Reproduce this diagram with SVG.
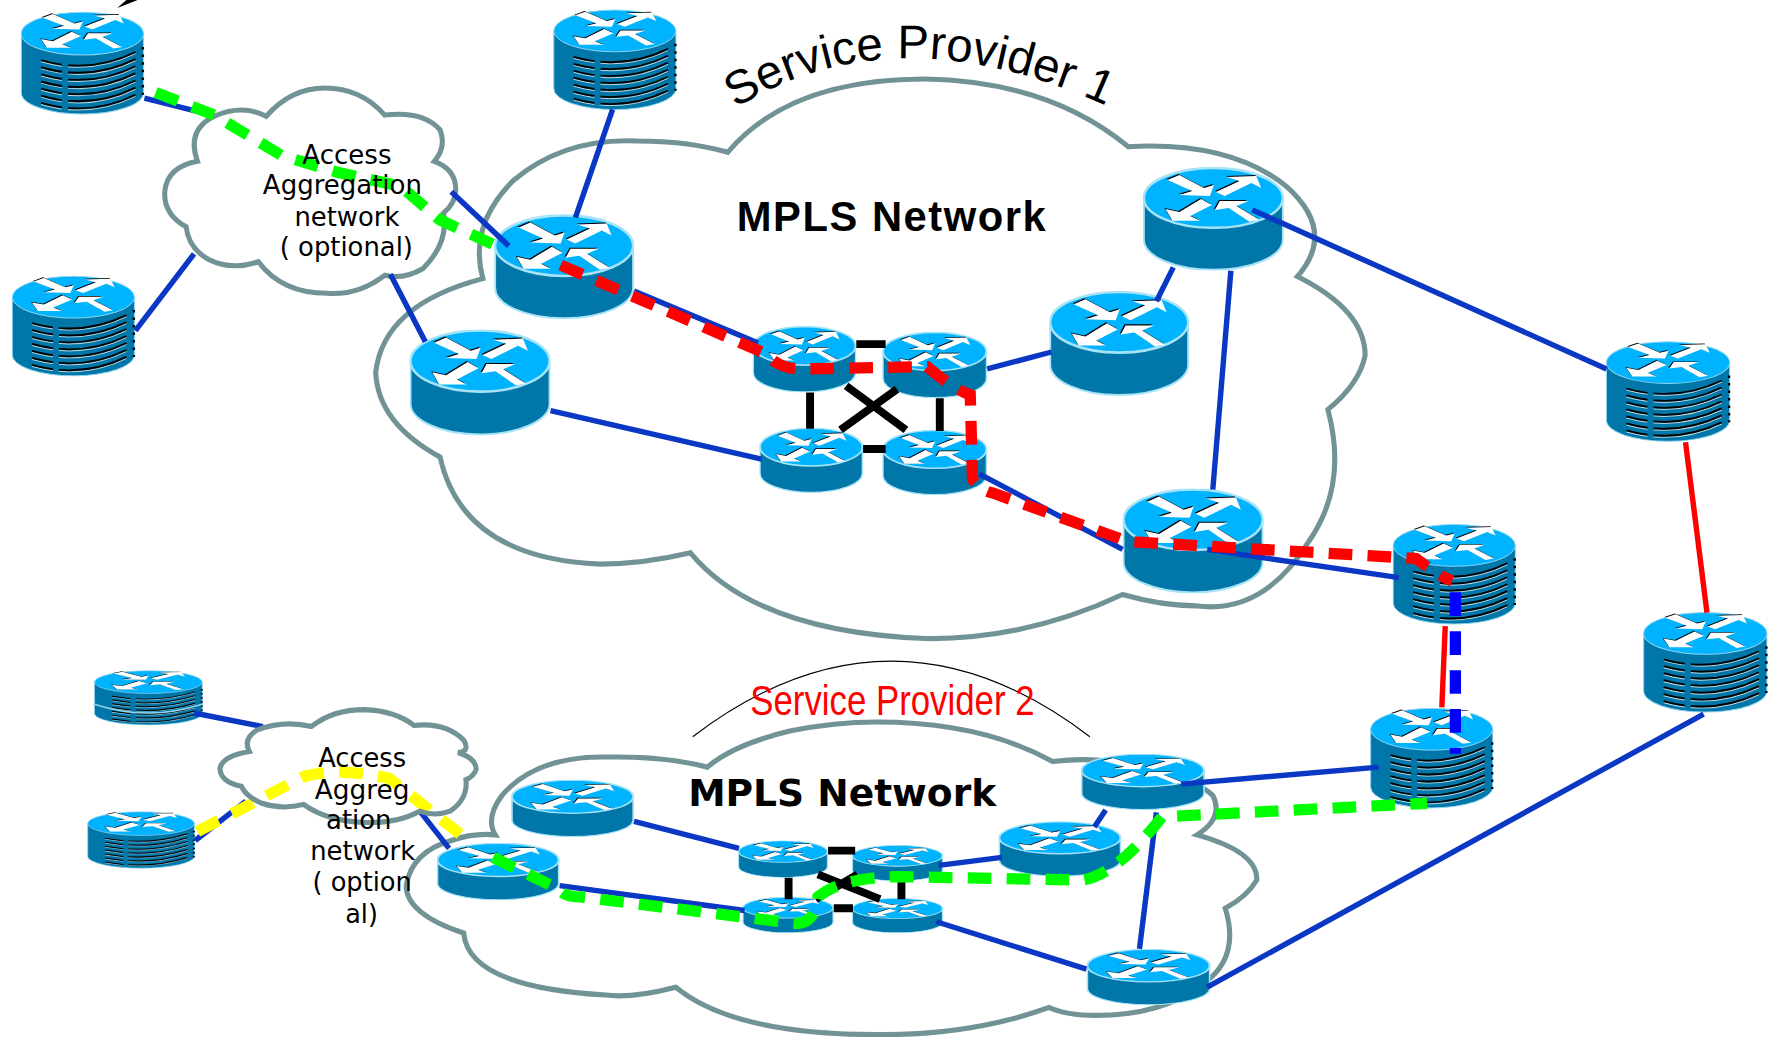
<svg xmlns="http://www.w3.org/2000/svg" xmlns:xlink="http://www.w3.org/1999/xlink" width="1769" height="1037" viewBox="0 0 1769 1037">
<style>
.cloud{fill:#fff;stroke:#729396;stroke-width:4.5}
.bl{fill:none;stroke:#0a38c4;stroke-width:4.8}
.rd{fill:none;stroke:#f00;stroke-width:4.8}
.bk{fill:none;stroke:#000;stroke-width:7}
.dash{fill:none;stroke-width:10;stroke-dasharray:21 13.5}
.ac{font-family:"DejaVu Sans",sans-serif;font-size:24px;fill:#000;text-anchor:start}
</style>
<defs>
<g id="arrows">
<path id="ar" d="M25 13L37 8L62 21L72 18L68 29L37 28L50 24ZM74 25L98 14L85 10L115 9L120 21L110 16L83 29ZM59 32L37 45L23 42L30 54L58 54L48 49L70 38ZM73 43L78 34L107 34L95 39L118 53L108 55L87 41Z"/>
</g>
<symbol id="router" viewBox="0 0 143 104" preserveAspectRatio="none">
<path d="M1 31V73A70.5 30 0 0 0 142 73V31Z" fill="#0077a8" stroke="#a6e3f7" stroke-width="2"/>
<ellipse cx="71.5" cy="31" rx="70.5" ry="30" fill="#00b3ff" stroke="#a6e3f7" stroke-width="2.5"/>
<use href="#arrows" x="-1" y="-1" fill="#000"/>
<use href="#arrows" fill="#fff"/>
</symbol>
<symbol id="stack" viewBox="0 0 125 102" preserveAspectRatio="none">
<path d="M1 22V80A61.5 21 0 0 0 124 80V22Z" fill="#0077a8" stroke="#8fd4ee" stroke-width="1"/>
<path d="M123.5 35V82" fill="none" stroke="#000" stroke-width="2.5" stroke-dasharray="2.5 5"/>
<g fill="none" stroke="#c4d4da" stroke-width="1" transform="translate(0 1.6)">
<path d="M21 48Q70 62 116 40"/><path d="M21 55Q70 69 116 47"/><path d="M21 62Q70 76 116 54"/><path d="M21 69Q70 83 116 61"/><path d="M21 76Q70 90 116 68"/><path d="M21 83Q70 97 116 75"/><path d="M21 90Q70 104 116 82"/>
</g>
<g fill="none" stroke="#000" stroke-width="1.8">
<path d="M21 48Q70 62 116 40"/><path d="M21 55Q70 69 116 47"/><path d="M21 62Q70 76 116 54"/><path d="M21 69Q70 83 116 61"/><path d="M21 76Q70 90 116 68"/><path d="M21 83Q70 97 116 75"/><path d="M21 90Q70 104 116 82"/>
</g>
<rect x="42" y="44" width="6" height="53" fill="#0077a8"/>
<ellipse cx="62.5" cy="22" rx="61.5" ry="21" fill="#00b3ff" stroke="#8fd4ee" stroke-width="1"/>
<g transform="translate(1 -3) scale(.86 .72)">
<use href="#arrows" x="-1" y="-1" fill="#000"/>
<use href="#arrows" fill="#fff"/>
</g>
</symbol>
<path id="arc1" d="M652 96Q800 4 1000 103"/>
</defs>
<g transform="scale(1.1282)">
<g id="clouds">
<path id="sp1-cloud" class="cloud" d="M645 135Q700 70 820 70Q930 72 1000 130Q1090 125 1140 165Q1185 205 1150 245Q1210 275 1210 315Q1205 340 1177 363Q1195 430 1160 480Q1120 545 1060 537Q1030 537 995 527Q910 567 820 566Q670 560 612 490Q570 500 532 500Q410 495 390 405Q335 375 333 330Q340 270 428 247Q415 200 455 160Q500 122 565 125Q610 125 645 135Z"/>
<path id="sp2-cloud" class="cloud" d="M439 740Q430 725 445 705Q475 670 537 671Q590 670 627 680Q650 660 700 648Q740 640 777 640Q870 640 933 675Q975 670 1010 680Q1060 690 1075 705Q1085 725 1061 740Q1115 755 1114 780Q1105 795 1086 805Q1100 850 1065 873Q1030 900 971 900Q945 900 930 893Q860 918 777 917Q650 917 599 875Q560 885 537 882Q415 875 411 827Q360 810 360 785Q365 755 400 745Q420 738 439 740Z"/>
<path id="access1-cloud" class="cloud" d="M236 103Q258 78 288 78Q320 78 341 102Q375 98 390 115Q396 130 385 143Q404 150 404 168Q404 180 393 189Q398 215 375 238Q358 248 341 244Q318 262 290 260Q250 260 229 232Q205 240 185 230Q167 220 165 201Q145 190 146 170Q148 148 175 143Q165 115 190 103Q215 92 236 103Z"/>
</g>
<g id="nodes">
<g id="s1"><use href="#stack" x="18" y="10" width="110" height="92"/></g>
<g id="s2"><use href="#stack" x="10" y="244" width="110" height="90"/></g>
<g id="s3"><use href="#stack" x="490" y="8" width="110" height="90"/></g>
<g id="s4"><use href="#stack" x="1423" y="302" width="111" height="90"/></g>
<g id="s5"><use href="#stack" x="1456" y="542" width="111" height="90"/></g>
<g id="s6"><use href="#stack" x="1234" y="464" width="110" height="90"/></g>
<g id="s7"><use href="#stack" x="1214" y="627" width="110" height="90"/></g>
<g id="s8"><use href="#stack" x="83" y="594" width="97" height="49"/><path d="M83 624Q131 640 180 624" fill="none" stroke="#8fd4ee" stroke-width="1.2"/></g>
<g id="s9"><use href="#stack" x="77" y="719" width="96" height="51"/></g>
<g id="r1"><use href="#router" x="438" y="190" width="124" height="93"/></g>
<g id="r2"><use href="#router" x="363" y="292" width="125" height="94"/></g>
<g id="r3"><use href="#router" x="930" y="258" width="124" height="93"/></g>
<g id="r4"><use href="#router" x="1013" y="148" width="125" height="92"/></g>
<g id="r5"><use href="#router" x="995" y="433" width="125" height="93"/></g>
<g id="a"><use href="#router" x="667" y="289" width="92" height="59"/></g>
<g id="b"><use href="#router" x="782" y="294" width="93" height="59"/></g>
<g id="c"><use href="#router" x="673" y="379" width="92" height="58"/></g>
<g id="d"><use href="#router" x="782" y="381" width="93" height="58"/></g>
<g id="r6"><use href="#router" x="453" y="691" width="109" height="51"/></g>
<g id="r7"><use href="#router" x="387" y="747" width="109" height="51"/></g>
<g id="e"><use href="#router" x="654" y="745" width="80" height="33"/></g>
<g id="f"><use href="#router" x="755" y="749" width="81" height="32"/></g>
<g id="g"><use href="#router" x="658" y="795" width="81" height="32"/></g>
<g id="h"><use href="#router" x="755" y="796" width="81" height="31"/></g>
<g id="r8"><use href="#router" x="885" y="728" width="109" height="49"/></g>
<g id="r9"><use href="#router" x="958" y="668" width="110" height="50"/></g>
<g id="r10"><use href="#router" x="963" y="841" width="110" height="50"/></g>
</g>
<g id="connectors">
<path class="bl" d="M128 87L188 102M120 293L172 225M400 170L451 218M346 243L377 303M543 97L510 193M562 258L672 304M488 364L675 407M875 327L932 312M1040 237L1025 267M1091 240L1075 434M1110 186L1424 327M868 420L995 487M1070 487L1240 512M1047 695L1222 680M562 728L655 752M496 785L660 807M832 767L888 760M980 718L970 733M1025 720L1010 841M830 817L963 859M1070 875L1510 633M172 632L233 644M173 745L218 710M373 720L398 752"/>
<path class="rd" d="M1494 392L1513 543M1281 555L1278 627"/>
<path class="bk" d="M759 305H785M718 348V380M833 353V382M765 398H785M750 342L803 381M745 381L795 345M734 754H758M699 778V797M799 781V797M739 805H756M725 775L780 797M723 797L760 775"/>
<path class="dash" stroke="#ff0" d="M175 737L270 688Q300 680 345 690L415 745"/>
<path class="dash" stroke="#0f0" d="M138 82L190 102L250 138L300 153L355 165L390 195L440 218"/>
<path class="dash" stroke="#f00" d="M497 235L680 314Q690 327 710 327L822 325Q845 345 860 350L862 425Q870 435 880 437L1000 480L1255 495Q1275 510 1287 515"/>
<path class="dash" stroke="#00f" d="M1290 525V668"/>
<path class="dash" stroke="#0f0" d="M437 760L495 788Q500 795 515 795L700 818Q722 822 725 795Q745 778 795 777L960 780Q990 775 1030 724L1265 712"/>
</g>
<path id="access2-cloud" fill="none" stroke="#729396" stroke-width="4.5" d="M276 644Q295 629 323 629Q350 630 367 643Q395 640 411 656Q417 666 406 667Q422 672 422 682Q420 688 413 691Q415 708 399 719Q385 724 372 719Q352 730 323 729Q290 728 269 713Q250 718 232 712Q218 706 214 697Q195 693 195 681Q197 670 221 666Q215 655 228 647Q252 638 276 644Z"/>
<path id="pointer" d="M104 7L122 0H112Z" fill="#000"/>
<path id="sp2-arc" d="M614 653Q790 519 966 653" fill="none" stroke="#000" stroke-width="1"/>
<g id="labels">
<text font-family="'Liberation Sans',sans-serif" font-size="42" fill="#000"><textPath href="#arc1">Service Provider 1</textPath></text>
<text x="653" y="205" font-family="'Liberation Sans',sans-serif" font-weight="bold" font-size="37" fill="#000" textLength="274">MPLS Network</text>
<text x="610" y="714" font-family="'DejaVu Sans',sans-serif" font-weight="bold" font-size="33" fill="#000" textLength="273" lengthAdjust="spacingAndGlyphs">MPLS Network</text>
<text x="665" y="634" font-family="'Liberation Sans',sans-serif" font-size="37" fill="#f00" textLength="252" lengthAdjust="spacingAndGlyphs">Service Provider 2</text>
<text class="ac" x="268" y="145" textLength="79" lengthAdjust="spacingAndGlyphs">Access</text>
<text class="ac" x="233" y="172" textLength="141" lengthAdjust="spacingAndGlyphs">Aggregation</text>
<text class="ac" x="261" y="200" textLength="93" lengthAdjust="spacingAndGlyphs">network</text>
<text class="ac" x="248" y="227" textLength="118" lengthAdjust="spacingAndGlyphs">( optional)</text>
<text class="ac" x="282" y="680" textLength="78" lengthAdjust="spacingAndGlyphs">Access</text>
<text class="ac" x="279" y="708" textLength="84" lengthAdjust="spacingAndGlyphs">Aggreg</text>
<text class="ac" x="289" y="735" textLength="58" lengthAdjust="spacingAndGlyphs">ation</text>
<text class="ac" x="275" y="762" textLength="93" lengthAdjust="spacingAndGlyphs">network</text>
<text class="ac" x="277" y="790" textLength="88" lengthAdjust="spacingAndGlyphs">( option</text>
<text class="ac" x="306" y="818" textLength="29" lengthAdjust="spacingAndGlyphs">al)</text>
</g>
</g>
</svg>
